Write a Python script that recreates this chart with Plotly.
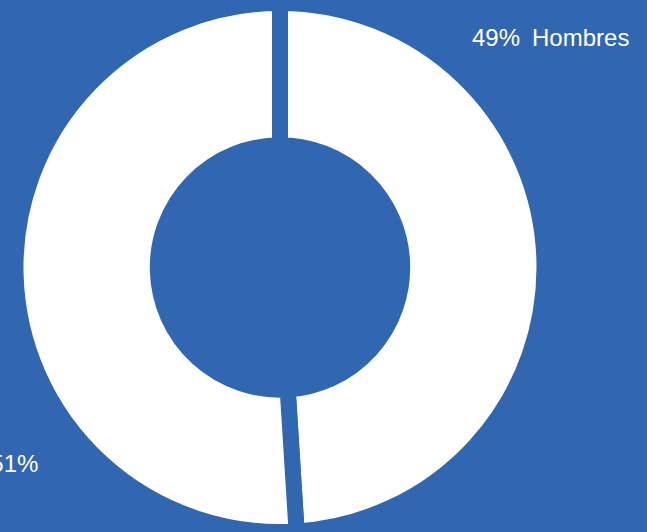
import plotly.graph_objects as go

# Gender split shown as a donut
labels = ["Hombres", "Mujeres"]
values = [49, 51]

BG = "#3167B1"
W, H = 647, 532

total = sum(values)
pct = [round(100 * v / total) for v in values]

fig = go.Figure(
    go.Pie(
        labels=labels,
        values=values,
        sort=False,
        direction="clockwise",
        rotation=0,
        hole=0.462,
        textinfo="none",
        hoverinfo="label+percent",
        marker=dict(colors=["#FFFFFF", "#FFFFFF"], line=dict(color=BG, width=16)),
        domain=dict(x=[0, 560 / W], y=[0, 1]),
        showlegend=False,
    )
)

font = dict(family="Liberation Sans, Arial, sans-serif", size=24, color="#FFFFFF")

fig.update_layout(
    width=W,
    height=H,
    margin=dict(l=0, r=0, t=3, b=0),
    paper_bgcolor=BG,
    plot_bgcolor=BG,
    annotations=[
        dict(
            text=f"{pct[0]}%\u2002{labels[0]}",
            x=470 / W, y=1 - 35 / H, xref="paper", yref="paper",
            xanchor="left", yanchor="middle", showarrow=False, font=font,
        ),
        dict(
            text=f"{labels[1]}\u2002{pct[1]}%",
            x=40 / W, y=1 - 463 / H, xref="paper", yref="paper",
            xanchor="right", yanchor="middle", showarrow=False, font=font,
        ),
    ],
)

fig.write_html("out.html")
